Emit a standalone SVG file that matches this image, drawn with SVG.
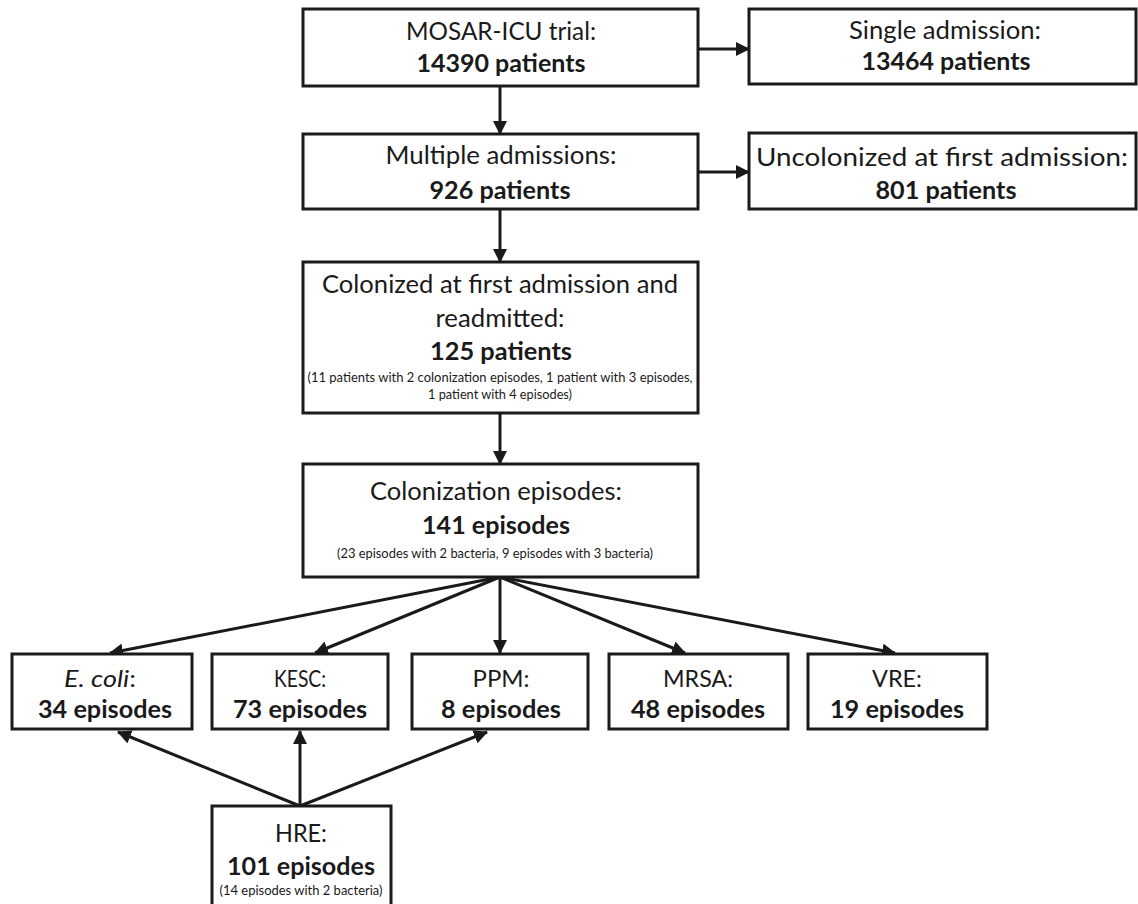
<svg xmlns="http://www.w3.org/2000/svg" width="1138" height="904" viewBox="0 0 1138 904">
<style>
.box{fill:#fff;stroke:#1a1a1a;stroke-width:3}
.t{font-family:Lato,"Open Sans","Liberation Sans",sans-serif;font-size:25px;fill:#1a1a1a;text-anchor:middle}
.b{font-weight:bold}
.s{font-size:13px}
.m{font-size:24px}
.c line{stroke:#1a1a1a;stroke-width:3}
</style>
<defs>
<marker id="ah" markerUnits="userSpaceOnUse" markerWidth="14" markerHeight="14" viewBox="0 0 14 14" refX="13" refY="7" orient="auto">
<path d="M0,0 L14,7 L0,14 z" fill="#1a1a1a"/>
</marker>
</defs>
<rect width="1138" height="904" fill="#fff"/>
<g class="c">
<line x1="698" y1="49" x2="749" y2="49" marker-end="url(#ah)"/>
<line x1="500" y1="86" x2="500" y2="134" marker-end="url(#ah)"/>
<line x1="698" y1="172" x2="749" y2="172" marker-end="url(#ah)"/>
<line x1="500" y1="209" x2="500" y2="262" marker-end="url(#ah)"/>
<line x1="500" y1="413" x2="500" y2="464" marker-end="url(#ah)"/>
<line x1="500" y1="577" x2="110" y2="653" marker-end="url(#ah)"/>
<line x1="500" y1="577" x2="315" y2="653" marker-end="url(#ah)"/>
<line x1="500" y1="577" x2="500" y2="653" marker-end="url(#ah)"/>
<line x1="500" y1="577" x2="685" y2="653" marker-end="url(#ah)"/>
<line x1="500" y1="577" x2="895" y2="653" marker-end="url(#ah)"/>
<line x1="300" y1="806" x2="118" y2="732" marker-end="url(#ah)"/>
<line x1="300" y1="806" x2="300" y2="731" marker-end="url(#ah)"/>
<line x1="300" y1="806" x2="487" y2="732" marker-end="url(#ah)"/>
</g>
<g id="mosar">
<rect class="box" x="303" y="9" width="395" height="77"/>
<text class="t" x="501" y="40" textLength="190" lengthAdjust="spacingAndGlyphs">MOSAR-ICU trial:</text>
<text class="t b" x="501" y="72" textLength="169" lengthAdjust="spacingAndGlyphs">14390 patients</text>
</g>
<g id="single">
<rect class="box" x="749" y="9" width="387" height="75"/>
<text class="t" x="945" y="39" textLength="192" lengthAdjust="spacingAndGlyphs">Single admission:</text>
<text class="t b" x="946" y="70" textLength="169" lengthAdjust="spacingAndGlyphs">13464 patients</text>
</g>
<g id="multiple">
<rect class="box" x="303" y="134" width="395" height="75"/>
<text class="t" x="501" y="164" textLength="231" lengthAdjust="spacingAndGlyphs">Multiple admissions:</text>
<text class="t b" x="500" y="199" textLength="141" lengthAdjust="spacingAndGlyphs">926 patients</text>
</g>
<g id="uncolonized">
<rect class="box" x="749" y="133" width="387" height="76"/>
<text class="t" x="942" y="166" textLength="372" lengthAdjust="spacingAndGlyphs">Uncolonized at first admission:</text>
<text class="t b" x="946" y="199" textLength="141" lengthAdjust="spacingAndGlyphs">801 patients</text>
</g>
<g id="colonized">
<rect class="box" x="303" y="262" width="395" height="151"/>
<text class="t" x="500" y="293" textLength="356" lengthAdjust="spacingAndGlyphs">Colonized at first admission and</text>
<text class="t" x="500" y="327" textLength="129" lengthAdjust="spacingAndGlyphs">readmitted:</text>
<text class="t b" x="501" y="360" textLength="142" lengthAdjust="spacingAndGlyphs">125 patients</text>
<text class="t s" x="500" y="382" textLength="385" lengthAdjust="spacingAndGlyphs">(11 patients with 2 colonization episodes, 1 patient with 3 episodes,</text>
<text class="t s" x="500" y="399" textLength="144" lengthAdjust="spacingAndGlyphs">1 patient with 4 episodes)</text>
</g>
<g id="episodes">
<rect class="box" x="303" y="464" width="395" height="113"/>
<text class="t" x="496" y="500" textLength="252" lengthAdjust="spacingAndGlyphs">Colonization episodes:</text>
<text class="t b" x="496" y="534" textLength="148" lengthAdjust="spacingAndGlyphs">141 episodes</text>
<text class="t s" x="495" y="558" textLength="316" lengthAdjust="spacingAndGlyphs">(23 episodes with 2 bacteria, 9 episodes with 3 bacteria)</text>
</g>
<g id="ecoli">
<rect class="box" x="12" y="654" width="180" height="75"/>
<text class="t m" x="100" y="687" textLength="72" lengthAdjust="spacingAndGlyphs"><tspan font-style="italic">E. coli</tspan>:</text>
<text class="t b" x="105" y="718" textLength="134" lengthAdjust="spacingAndGlyphs">34 episodes</text>
</g>
<g id="kesc">
<rect class="box" x="212" y="654" width="176" height="75"/>
<text class="t m" x="300" y="687" textLength="52" lengthAdjust="spacingAndGlyphs">KESC:</text>
<text class="t b" x="300" y="718" textLength="134" lengthAdjust="spacingAndGlyphs">73 episodes</text>
</g>
<g id="ppm">
<rect class="box" x="412" y="654" width="176" height="75"/>
<text class="t m" x="501" y="687" textLength="57" lengthAdjust="spacingAndGlyphs">PPM:</text>
<text class="t b" x="501" y="718" textLength="120" lengthAdjust="spacingAndGlyphs">8 episodes</text>
</g>
<g id="mrsa">
<rect class="box" x="609" y="654" width="179" height="75"/>
<text class="t m" x="698" y="687" textLength="70" lengthAdjust="spacingAndGlyphs">MRSA:</text>
<text class="t b" x="698" y="718" textLength="134" lengthAdjust="spacingAndGlyphs">48 episodes</text>
</g>
<g id="vre">
<rect class="box" x="808" y="654" width="179" height="75"/>
<text class="t m" x="897" y="687" textLength="50" lengthAdjust="spacingAndGlyphs">VRE:</text>
<text class="t b" x="897" y="718" textLength="134" lengthAdjust="spacingAndGlyphs">19 episodes</text>
</g>
<g id="hre">
<rect class="box" x="212" y="806" width="179" height="100"/>
<text class="t" x="301" y="842" textLength="52" lengthAdjust="spacingAndGlyphs">HRE:</text>
<text class="t b" x="301" y="875" textLength="148" lengthAdjust="spacingAndGlyphs">101 episodes</text>
<text class="t s" x="301" y="895" textLength="163" lengthAdjust="spacingAndGlyphs">(14 episodes with 2 bacteria)</text>
</g>
</svg>
